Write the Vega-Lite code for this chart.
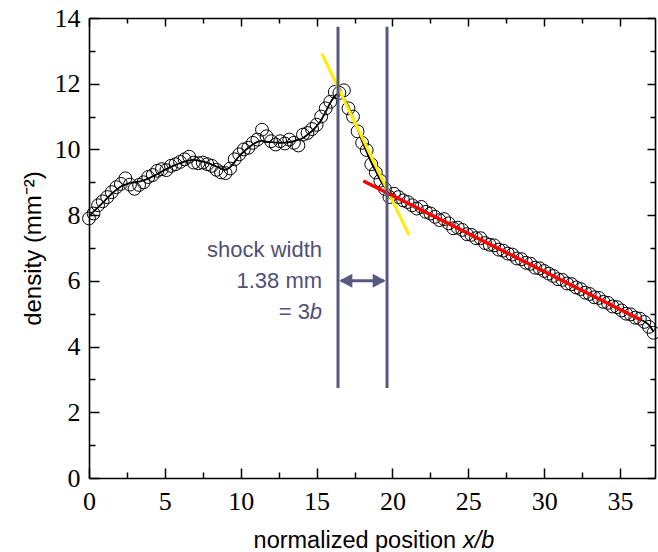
{
  "$schema": "https://vega.github.io/schema/vega-lite/v6.json",
  "width": 566,
  "height": 460,
  "autosize": {"type": "none"},
  "padding": {"left": 89, "top": 18, "right": 3, "bottom": 74},
  "background": "white",
  "config": {
    "view": {"stroke": null},
    "axis": {
      "grid": false,
      "labelFlush": false,
      "labelOverlap": false,
      "domainColor": "black",
      "domainWidth": 1.6,
      "tickColor": "black",
      "tickWidth": 1.5,
      "labelFont": "Liberation Serif",
      "labelFontSize": 26,
      "labelColor": "black",
      "titleFont": "Liberation Sans",
      "titleFontWeight": "normal",
      "titleFontSize": 24,
      "titleColor": "black"
    }
  },
  "datasets": {
    "pts": [
      {"x": 0, "d": 7.9, "f": 7.97},
      {"x": 0.3, "d": 8.05, "f": 8.11},
      {"x": 0.6, "d": 8.3, "f": 8.24},
      {"x": 0.9, "d": 8.42, "f": 8.37},
      {"x": 1.2, "d": 8.55, "f": 8.52},
      {"x": 1.5, "d": 8.7, "f": 8.65},
      {"x": 1.8, "d": 8.85, "f": 8.77},
      {"x": 2.1, "d": 8.95, "f": 8.87},
      {"x": 2.4, "d": 9.12, "f": 8.93},
      {"x": 2.7, "d": 8.93, "f": 8.98},
      {"x": 3.0, "d": 8.8, "f": 9.0},
      {"x": 3.3, "d": 8.92, "f": 9.02},
      {"x": 3.6, "d": 9.0, "f": 9.06},
      {"x": 3.9, "d": 9.16, "f": 9.11},
      {"x": 4.2, "d": 9.22, "f": 9.18},
      {"x": 4.5, "d": 9.35, "f": 9.25},
      {"x": 4.8, "d": 9.4, "f": 9.33},
      {"x": 5.1, "d": 9.37, "f": 9.4},
      {"x": 5.4, "d": 9.5, "f": 9.47},
      {"x": 5.7, "d": 9.55, "f": 9.53},
      {"x": 6.0, "d": 9.62, "f": 9.58},
      {"x": 6.3, "d": 9.7, "f": 9.63},
      {"x": 6.6, "d": 9.78, "f": 9.67},
      {"x": 6.9, "d": 9.6, "f": 9.68},
      {"x": 7.2, "d": 9.58, "f": 9.66},
      {"x": 7.5, "d": 9.6, "f": 9.63},
      {"x": 7.8, "d": 9.55, "f": 9.59},
      {"x": 8.1, "d": 9.5, "f": 9.54},
      {"x": 8.4, "d": 9.38, "f": 9.48},
      {"x": 8.7, "d": 9.3, "f": 9.42},
      {"x": 9.0, "d": 9.28, "f": 9.38},
      {"x": 9.3, "d": 9.42, "f": 9.46},
      {"x": 9.6, "d": 9.7, "f": 9.62},
      {"x": 9.9, "d": 9.85, "f": 9.8},
      {"x": 10.2, "d": 10.0, "f": 9.93},
      {"x": 10.5, "d": 10.05, "f": 10.05},
      {"x": 10.8, "d": 10.2, "f": 10.15},
      {"x": 11.1, "d": 10.3, "f": 10.23},
      {"x": 11.4, "d": 10.6, "f": 10.26},
      {"x": 11.7, "d": 10.4, "f": 10.24},
      {"x": 12.0, "d": 10.25, "f": 10.22},
      {"x": 12.3, "d": 10.15, "f": 10.21},
      {"x": 12.6, "d": 10.25, "f": 10.2},
      {"x": 12.9, "d": 10.18, "f": 10.21},
      {"x": 13.2, "d": 10.3, "f": 10.22},
      {"x": 13.5, "d": 10.2, "f": 10.25},
      {"x": 13.8, "d": 10.12, "f": 10.29},
      {"x": 14.1, "d": 10.45, "f": 10.35},
      {"x": 14.4, "d": 10.5, "f": 10.45},
      {"x": 14.7, "d": 10.62, "f": 10.56},
      {"x": 15.0, "d": 10.75, "f": 10.71},
      {"x": 15.3, "d": 11.0, "f": 10.89},
      {"x": 15.6, "d": 11.25, "f": 11.15},
      {"x": 15.9, "d": 11.45, "f": 11.42},
      {"x": 16.2, "d": 11.75, "f": 11.62},
      {"x": 16.5, "d": 11.72, "f": 11.72},
      {"x": 16.8, "d": 11.8, "f": 11.55},
      {"x": 17.1, "d": 11.25, "f": 11.3},
      {"x": 17.4, "d": 11.0, "f": 10.96},
      {"x": 17.7, "d": 10.55, "f": 10.62},
      {"x": 18.0, "d": 10.2, "f": 10.25},
      {"x": 18.3, "d": 9.98, "f": 9.92},
      {"x": 18.6, "d": 9.55, "f": 9.61},
      {"x": 18.9, "d": 9.3, "f": 9.33},
      {"x": 19.2, "d": 9.05, "f": 9.06},
      {"x": 19.5, "d": 8.8, "f": 8.84},
      {"x": 19.8, "d": 8.55, "f": 8.71},
      {"x": 20.1, "d": 8.65, "f": 8.6},
      {"x": 20.4, "d": 8.55, "f": 8.5},
      {"x": 20.7, "d": 8.45, "f": 8.44},
      {"x": 21.0, "d": 8.4, "f": 8.37},
      {"x": 21.3, "d": 8.3, "f": 8.3},
      {"x": 21.6, "d": 8.2, "f": 8.23},
      {"x": 21.9, "d": 8.25, "f": 8.16},
      {"x": 22.2, "d": 8.1, "f": 8.09},
      {"x": 22.5, "d": 8.05, "f": 8.02},
      {"x": 22.8, "d": 7.95, "f": 7.95},
      {"x": 23.1, "d": 7.85, "f": 7.88},
      {"x": 23.4, "d": 7.88, "f": 7.81},
      {"x": 23.7, "d": 7.75, "f": 7.74},
      {"x": 24.0, "d": 7.6, "f": 7.67},
      {"x": 24.3, "d": 7.62, "f": 7.6},
      {"x": 24.6, "d": 7.55, "f": 7.53},
      {"x": 24.9, "d": 7.42, "f": 7.47},
      {"x": 25.2, "d": 7.4, "f": 7.4},
      {"x": 25.5, "d": 7.3, "f": 7.33},
      {"x": 25.8, "d": 7.3, "f": 7.26},
      {"x": 26.1, "d": 7.15, "f": 7.19},
      {"x": 26.4, "d": 7.1, "f": 7.12},
      {"x": 26.7, "d": 7.08, "f": 7.05},
      {"x": 27.0, "d": 6.95, "f": 6.98},
      {"x": 27.3, "d": 6.92, "f": 6.91},
      {"x": 27.6, "d": 6.83, "f": 6.84},
      {"x": 27.9, "d": 6.8, "f": 6.77},
      {"x": 28.2, "d": 6.68, "f": 6.7},
      {"x": 28.5, "d": 6.66, "f": 6.63},
      {"x": 28.8, "d": 6.55, "f": 6.56},
      {"x": 29.1, "d": 6.52, "f": 6.49},
      {"x": 29.4, "d": 6.4, "f": 6.43},
      {"x": 29.7, "d": 6.38, "f": 6.36},
      {"x": 30.0, "d": 6.3, "f": 6.29},
      {"x": 30.3, "d": 6.22, "f": 6.22},
      {"x": 30.6, "d": 6.15, "f": 6.15},
      {"x": 30.9, "d": 6.05, "f": 6.08},
      {"x": 31.2, "d": 6.03, "f": 6.01},
      {"x": 31.5, "d": 5.92, "f": 5.94},
      {"x": 31.8, "d": 5.9, "f": 5.87},
      {"x": 32.1, "d": 5.8, "f": 5.8},
      {"x": 32.4, "d": 5.75, "f": 5.73},
      {"x": 32.7, "d": 5.64, "f": 5.66},
      {"x": 33.0, "d": 5.6, "f": 5.59},
      {"x": 33.3, "d": 5.5, "f": 5.52},
      {"x": 33.6, "d": 5.48, "f": 5.46},
      {"x": 33.9, "d": 5.36, "f": 5.39},
      {"x": 34.2, "d": 5.33, "f": 5.32},
      {"x": 34.5, "d": 5.22, "f": 5.25},
      {"x": 34.8, "d": 5.2, "f": 5.18},
      {"x": 35.1, "d": 5.1, "f": 5.11},
      {"x": 35.4, "d": 5.0, "f": 5.04},
      {"x": 35.7, "d": 4.98, "f": 4.97},
      {"x": 36.0, "d": 4.88, "f": 4.9},
      {"x": 36.3, "d": 4.85, "f": 4.83},
      {"x": 36.6, "d": 4.75, "f": 4.76},
      {"x": 36.9, "d": 4.6, "f": 4.66},
      {"x": 37.2, "d": 4.42, "f": 4.45}
    ]
  },
  "layer": [
    {
      "data": {"name": "pts"},
      "mark": {"type": "line", "color": "black", "strokeWidth": 1.8, "interpolate": "monotone", "clip": true},
      "encoding": {
        "x": {"field": "x", "type": "quantitative", "scale": {"domain": [0, 37.3], "nice": false, "zero": false},
          "axis": {"orient": "top", "title": null, "labels": false,
            "values": [0, 2.5, 5, 7.5, 10, 12.5, 15, 17.5, 20, 22.5, 25, 27.5, 30, 32.5, 35],
            "tickSize": {"condition": {"test": "datum.value % 5 === 0", "value": -8}, "value": -5}}},
        "y": {"field": "f", "type": "quantitative", "scale": {"domain": [0, 14], "nice": false, "zero": false},
          "axis": {"orient": "right", "title": null, "labels": false,
            "values": [0, 1, 2, 3, 4, 5, 6, 7, 8, 9, 10, 11, 12, 13, 14],
            "tickSize": {"condition": {"test": "datum.value % 2 === 0", "value": -8}, "value": -5}}}
      }
    },
    {
      "data": {"name": "pts"},
      "mark": {"type": "point", "shape": "circle", "filled": false, "color": "black", "strokeWidth": 1, "size": 165, "opacity": 1},
      "encoding": {
        "x": {"field": "x", "type": "quantitative",
          "axis": {"orient": "bottom", "title": null, "labelPadding": 20,
            "values": [0, 2.5, 5, 7.5, 10, 12.5, 15, 17.5, 20, 22.5, 25, 27.5, 30, 32.5, 35],
            "labelExpr": "datum.value % 5 === 0 ? datum.label : ''",
            "tickSize": {"condition": {"test": "datum.value % 5 === 0", "value": -10}, "value": -6}}},
        "y": {"field": "d", "type": "quantitative",
          "axis": {"orient": "left", "title": "density (mm⁻²)", "titlePadding": 9, "labelPadding": 19,
            "values": [0, 1, 2, 3, 4, 5, 6, 7, 8, 9, 10, 11, 12, 13, 14],
            "labelExpr": "datum.value % 2 === 0 ? datum.label : ''",
            "tickSize": {"condition": {"test": "datum.value % 2 === 0", "value": -10}, "value": -6}}}
      }
    },
    {
      "data": {"values": [{"x": 15.34, "y": 12.92}, {"x": 21.09, "y": 7.39}]},
      "mark": {"type": "line", "color": "#ffee00", "strokeWidth": 3},
      "encoding": {
        "x": {"field": "x", "type": "quantitative", "axis": null},
        "y": {"field": "y", "type": "quantitative", "axis": null}
      }
    },
    {
      "data": {"values": [{"x": 18.08, "y": 9.04}, {"x": 36.37, "y": 4.81}]},
      "mark": {"type": "line", "color": "#ff0000", "strokeWidth": 3.5},
      "encoding": {
        "x": {"field": "x", "type": "quantitative", "axis": null},
        "y": {"field": "y", "type": "quantitative", "axis": null}
      }
    },
    {
      "data": {"values": [{"x": 16.41}, {"x": 19.64}]},
      "mark": {"type": "rule", "color": "#575a80", "strokeWidth": 3},
      "encoding": {
        "x": {"field": "x", "type": "quantitative", "axis": null},
        "y": {"datum": 2.74, "type": "quantitative", "axis": null},
        "y2": {"datum": 13.73}
      }
    },
    {
      "data": {"values": [{"x1": 16.6, "x2": 19.45, "y": 6.0}]},
      "mark": {"type": "rule", "color": "#575a80", "strokeWidth": 3},
      "encoding": {
        "x": {"field": "x1", "type": "quantitative", "axis": null},
        "x2": {"field": "x2"},
        "y": {"field": "y", "type": "quantitative", "axis": null}
      }
    },
    {
      "data": {"values": [{"x": 16.5, "y": 6.0}]},
      "mark": {"type": "point", "shape": "M0,0L1.85,-1L1.85,1Z", "filled": true, "color": "#575a80", "size": 196, "opacity": 1},
      "encoding": {
        "x": {"field": "x", "type": "quantitative", "axis": null},
        "y": {"field": "y", "type": "quantitative", "axis": null}
      }
    },
    {
      "data": {"values": [{"x": 19.55, "y": 6.0}]},
      "mark": {"type": "point", "shape": "M0,0L-1.85,-1L-1.85,1Z", "filled": true, "color": "#575a80", "size": 196, "opacity": 1},
      "encoding": {
        "x": {"field": "x", "type": "quantitative", "axis": null},
        "y": {"field": "y", "type": "quantitative", "axis": null}
      }
    },
    {
      "data": {"values": [{"t": "shock width", "x": 15.36, "y": 6.94}, {"t": "1.38 mm", "x": 15.36, "y": 6.0}]},
      "mark": {"type": "text", "align": "right", "baseline": "middle", "font": "Liberation Sans", "fontSize": 22, "color": "#505078"},
      "encoding": {
        "x": {"field": "x", "type": "quantitative", "axis": null},
        "y": {"field": "y", "type": "quantitative", "axis": null},
        "text": {"field": "t"}
      }
    },
    {
      "data": {"values": [{"t": "b", "x": 15.36, "y": 5.05}]},
      "mark": {"type": "text", "align": "right", "baseline": "middle", "font": "Liberation Sans", "fontSize": 22, "fontStyle": "italic", "color": "#505078"},
      "encoding": {
        "x": {"field": "x", "type": "quantitative", "axis": null},
        "y": {"field": "y", "type": "quantitative", "axis": null},
        "text": {"field": "t"}
      }
    },
    {
      "data": {"values": [{"t": "= 3", "x": 15.36, "y": 5.05}]},
      "mark": {"type": "text", "align": "right", "baseline": "middle", "dx": -12, "font": "Liberation Sans", "fontSize": 22, "color": "#505078"},
      "encoding": {
        "x": {"field": "x", "type": "quantitative", "axis": null},
        "y": {"field": "y", "type": "quantitative", "axis": null},
        "text": {"field": "t"}
      }
    },
    {
      "data": {"values": [{"t": "normalized position", "x": 24.19, "y": -2.13}]},
      "mark": {"type": "text", "align": "right", "baseline": "alphabetic", "font": "Liberation Sans", "fontSize": 23.5, "color": "black"},
      "encoding": {
        "x": {"field": "x", "type": "quantitative", "axis": null},
        "y": {"field": "y", "type": "quantitative", "axis": null},
        "text": {"field": "t"}
      }
    },
    {
      "data": {"values": [{"t": "x/b", "x": 24.65, "y": -2.13}]},
      "mark": {"type": "text", "align": "left", "baseline": "alphabetic", "font": "Liberation Sans", "fontSize": 23.5, "fontStyle": "italic", "color": "black"},
      "encoding": {
        "x": {"field": "x", "type": "quantitative", "axis": null},
        "y": {"field": "y", "type": "quantitative", "axis": null},
        "text": {"field": "t"}
      }
    }
  ]
}
